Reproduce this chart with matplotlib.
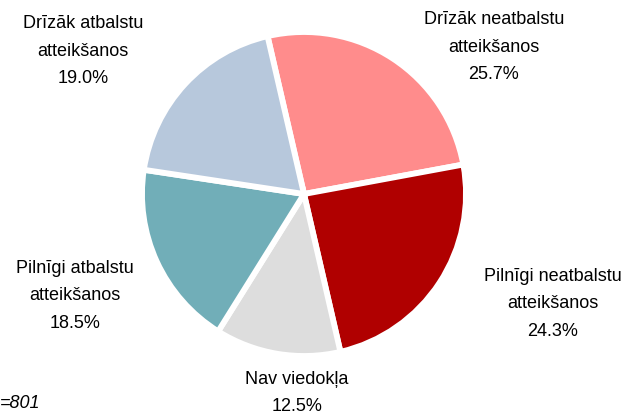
import matplotlib
matplotlib.use('Agg')
import matplotlib.pyplot as plt

plt.rcParams['font.family'] = ['Liberation Sans', 'DejaVu Sans']

W, H = 632, 418
# slices clockwise from the top
labels = ['Drīzāk neatbalstu\natteikšanos', 'Pilnīgi neatbalstu\natteikšanos',
          'Nav viedokļa', 'Pilnīgi atbalstu\natteikšanos', 'Drīzāk atbalstu\natteikšanos']
values = [25.7, 24.3, 12.5, 18.5, 19.0]
colors = ['#ff8c8c', '#b00000', '#dddddd', '#71aeb8', '#b7c8dc']
# label centres in pixels (x, y from top)
label_pos = [(494, 47), (553, 304), (297, 393), (75, 296), (83, 51)]
note = '=801'

fig = plt.figure(figsize=(W / 100, H / 100), dpi=100)
cx, cy, r = 304, 194, 162
ax = fig.add_axes([(cx - r) / W, (H - cy - r) / H, 2 * r / W, 2 * r / H])
ax.pie(values, colors=colors, startangle=103, counterclock=False, radius=1,
       wedgeprops=dict(edgecolor='white', linewidth=4.2))
ax.set_xlim(-1, 1)
ax.set_ylim(-1, 1)
ax.axis('off')

for lab, v, (x, y) in zip(labels, values, label_pos):
    fig.text(x / W, 1 - y / H, '{}\n{:.1f}%'.format(lab, v), ha='center', va='center',
             fontsize=13, linespacing=1.78, color='black')

fig.text(0, 1 - 403 / H, note, ha='left', va='center', fontsize=13, style='italic')

fig.savefig('out.png', dpi=100)
